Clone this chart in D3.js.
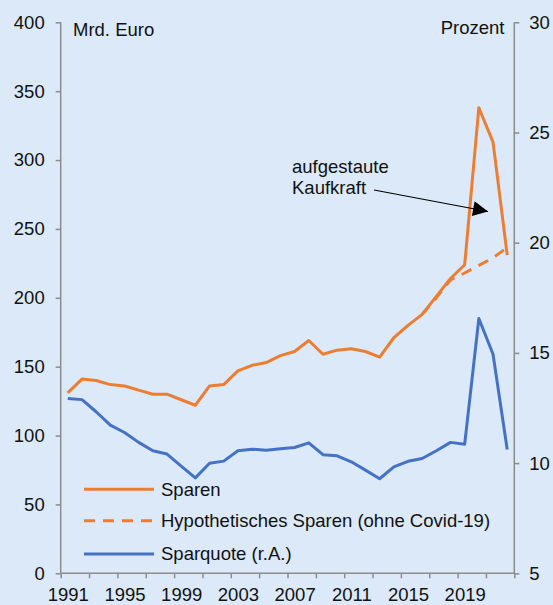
<!DOCTYPE html>
<html><head><meta charset="utf-8">
<script src="https://cdn.jsdelivr.net/npm/d3@7"></script>
<style>
html,body{margin:0;padding:0;background:#DCE9F8;}
svg{display:block;font-family:"Liberation Sans",Arial,sans-serif;}
</style></head>
<body><svg id="c" width="553" height="605"></svg>
<script>
const years = d3.range(1991, 2023);
const sparen = [131,141,140,137,136,133,130,130,126,122,136,137,147,151,153,158,161,169,159,162,163,161,157,171,180,188,201,214,224,338,313,231];
const hypoYears = [2016,2017,2018,2019,2020,2021,2022];
const hypoSparen = [188,200,213,218,223.5,229,236.5];
const sparquote = [12.93,12.88,12.33,11.72,11.39,10.94,10.56,10.41,9.86,9.33,9.99,10.09,10.56,10.63,10.58,10.65,10.71,10.92,10.38,10.33,10.06,9.68,9.29,9.83,10.08,10.21,10.56,10.94,10.86,16.56,14.94,10.62];
const leftTicks = [0,50,100,150,200,250,300,350,400];
const rightTicks = [5,10,15,20,25,30];
const labelYears = [1991,1995,1999,2003,2007,2011,2015,2019];
const legendLabels = ["Sparen","Hypothetisches Sparen (ohne Covid-19)","Sparquote (r.A.)"];

const orange = "#ED7D31", blue = "#4472C4", axisCol = "#8C8C8C";
const svg = d3.select("#c");
const L = 60.7, R = 514.3, T = 22.3, B = 573.3;
const x = d3.scaleLinear().domain([1990.5, 2022.5]).range([L, R]);
const yL = d3.scaleLinear().domain([0, 400]).range([B, T]);
const yR = d3.scaleLinear().domain([5, 30]).range([B, T]);

const fs = 18.5;
// left axis
const gl = svg.append("g").attr("transform", `translate(${L},0)`)
  .call(d3.axisLeft(yL).tickValues(leftTicks).tickSize(5).tickPadding(11).tickFormat(d3.format("d")));
// right axis
const gr = svg.append("g").attr("transform", `translate(${R},0)`)
  .call(d3.axisRight(yR).tickValues(rightTicks).tickSize(5).tickPadding(10).tickFormat(d3.format("d")));
// bottom axis ticks
const gb = svg.append("g").attr("transform", `translate(0,${B})`)
  .call(d3.axisBottom(x).tickValues(d3.range(1990.5, 2023, 2)).tickSize(5).tickFormat(""));
const gbl = svg.append("g").attr("transform", `translate(0,${B})`)
  .call(d3.axisBottom(x).tickValues(labelYears).tickSize(0).tickPadding(14.3).tickFormat(d3.format("d")));
gbl.select(".domain").remove();
[gl, gr, gb, gbl].forEach(g => {
  g.selectAll(".domain").attr("stroke", axisCol).attr("stroke-width", 1.5);
  g.selectAll(".tick line").attr("stroke", axisCol).attr("stroke-width", 1.5);
  g.selectAll("text").attr("font-size", fs).attr("fill", "#111").attr("font-family", "Liberation Sans, Arial, sans-serif");
});
gl.select(".domain").attr("d", `M0,${T}V${B}`);
gr.select(".domain").attr("d", `M0,${T}V${B}`);
gb.select(".domain").attr("d", `M${L},0H${R}`);

// axis titles
svg.append("text").attr("x", 73).attr("y", 35.5).attr("font-size", fs).attr("fill", "#111").text("Mrd. Euro");
svg.append("text").attr("x", 504.5).attr("y", 33.5).attr("text-anchor", "end").attr("font-size", fs).attr("fill", "#111").text("Prozent");

// lines
const lineL = d3.line().x(d => x(d[0])).y(d => yL(d[1]));
const lineR = d3.line().x(d => x(d[0])).y(d => yR(d[1]));
svg.append("path").datum(years.map((y, i) => [y, sparquote[i]])).attr("d", lineR)
  .attr("fill", "none").attr("stroke", blue).attr("stroke-width", 3).attr("stroke-linejoin", "round");
svg.append("path").datum(hypoYears.map((y, i) => [y, hypoSparen[i]])).attr("d", lineL)
  .attr("fill", "none").attr("stroke", orange).attr("stroke-width", 3).attr("stroke-dasharray", "11,8");
svg.append("path").datum(years.map((y, i) => [y, sparen[i]])).attr("d", lineL)
  .attr("fill", "none").attr("stroke", orange).attr("stroke-width", 3).attr("stroke-linejoin", "round");

// annotation
svg.append("defs").append("marker").attr("id", "ah").attr("viewBox", "0 0 10 10")
  .attr("refX", 10).attr("refY", 5).attr("markerWidth", 17).attr("markerHeight", 15)
  .attr("markerUnits", "userSpaceOnUse").attr("orient", "auto")
  .append("path").attr("d", "M0,0L10,5L0,10Z").attr("fill", "#000");
svg.append("line").attr("x1", 374).attr("y1", 190).attr("x2", 488).attr("y2", 211.5)
  .attr("stroke", "#000").attr("stroke-width", 1.2).attr("marker-end", "url(#ah)");
const ann = svg.append("text").attr("font-size", fs).attr("fill", "#111");
ann.append("tspan").attr("x", 292).attr("y", 173).text("aufgestaute");
ann.append("tspan").attr("x", 292).attr("y", 194).text("Kaufkraft");

// legend
const legY = [489.3, 520.7, 554];
const legStyle = [[orange, null], [orange, "11,8"], [blue, null]];
legendLabels.forEach((lab, i) => {
  svg.append("line").attr("x1", 84).attr("x2", 154).attr("y1", legY[i]).attr("y2", legY[i])
    .attr("stroke", legStyle[i][0]).attr("stroke-width", 3).attr("stroke-dasharray", legStyle[i][1]);
  svg.append("text").attr("x", 161).attr("y", legY[i]).attr("dy", "0.35em").attr("font-size", fs).attr("fill", "#111").text(lab);
});
</script></body></html>
